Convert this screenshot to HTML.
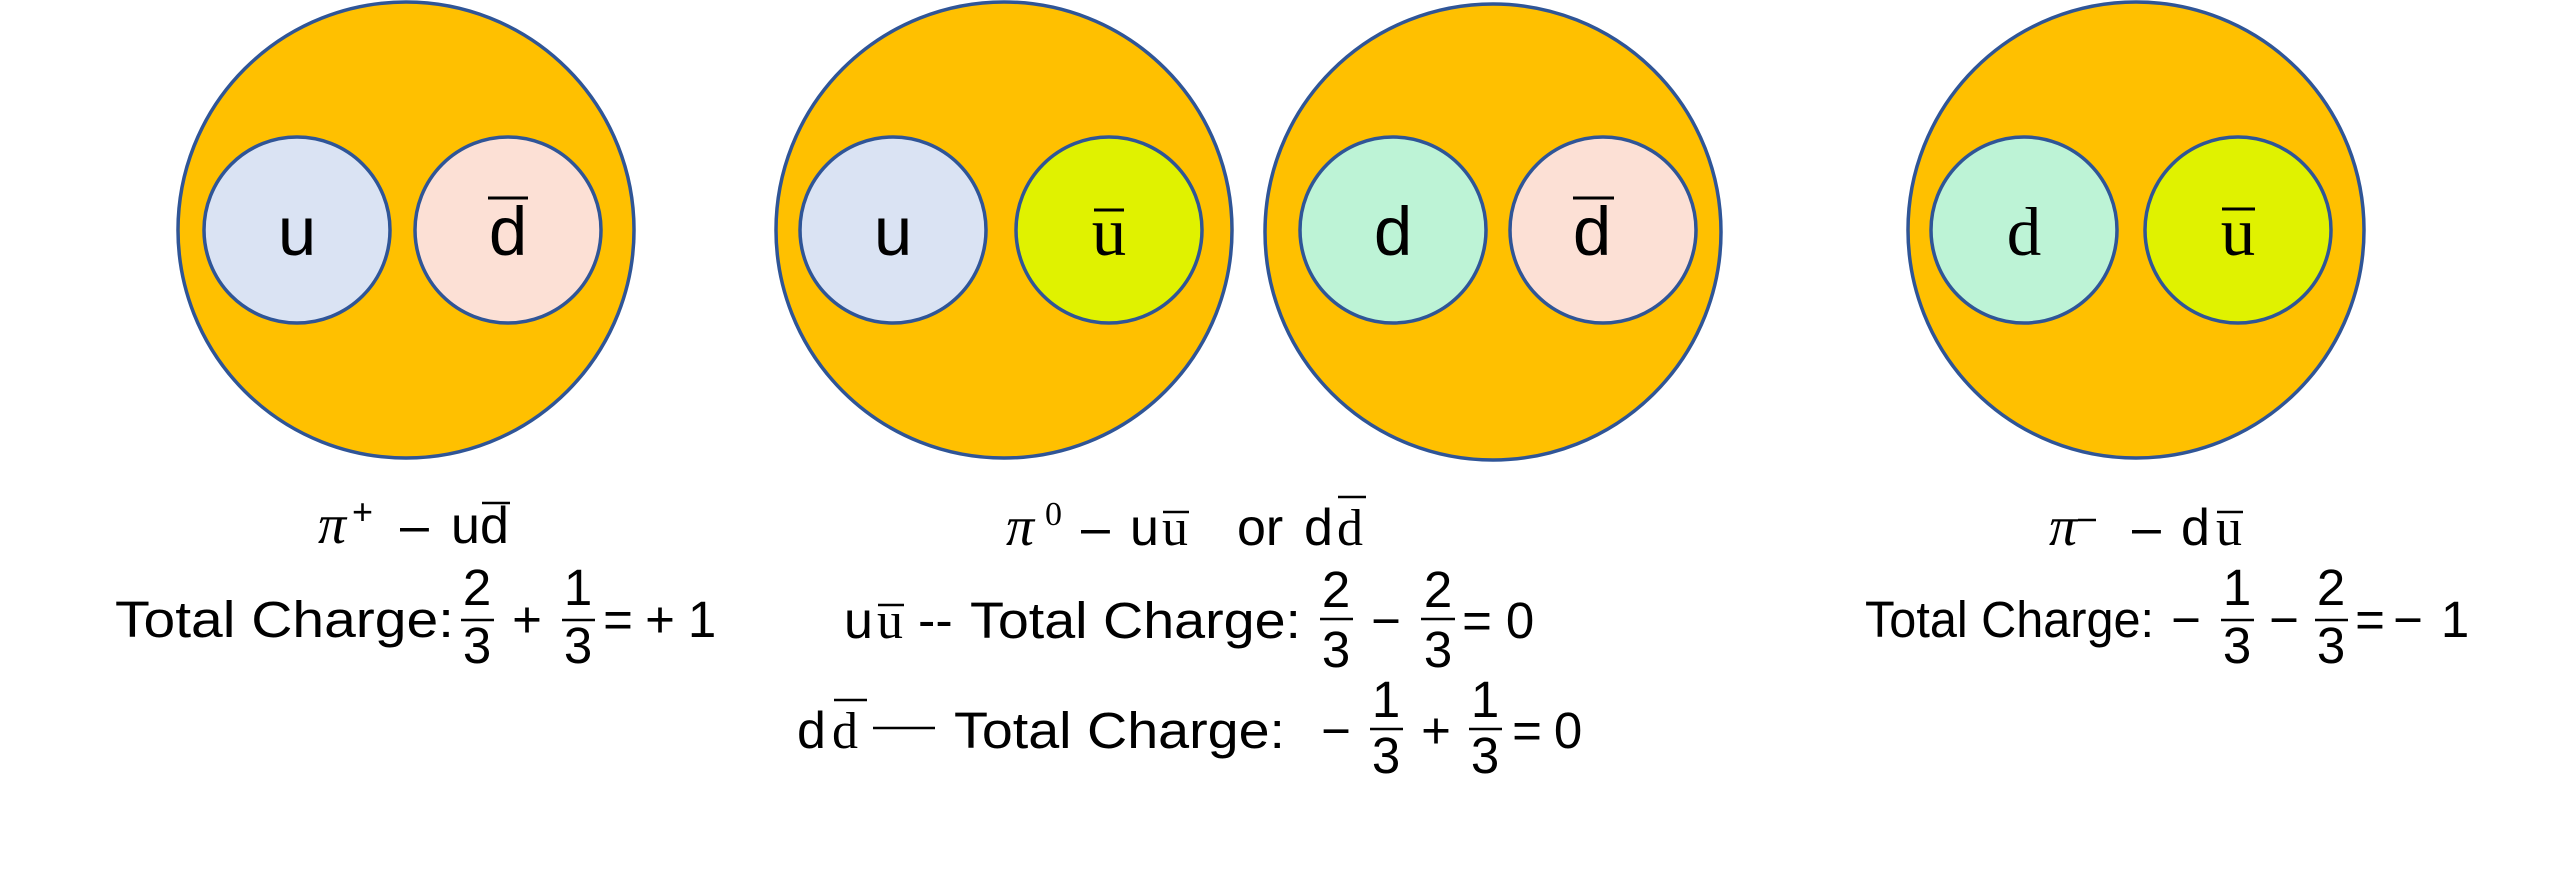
<!DOCTYPE html>
<html><head><meta charset="utf-8"><style>
html,body{margin:0;padding:0;background:#fff;}
svg{display:block;}
.s{font-family:"Liberation Sans",sans-serif;fill:#000;}
.r{font-family:"Liberation Serif",serif;fill:#000;}
</style></head><body>
<svg width="2560" height="878" viewBox="0 0 2560 878" xmlns="http://www.w3.org/2000/svg">
<g stroke="#2F5597" stroke-width="3.5">
<circle cx="406" cy="230" r="228" fill="#FFC000"/>
<circle cx="1004" cy="230" r="228" fill="#FFC000"/>
<circle cx="1493" cy="232" r="228" fill="#FFC000"/>
<circle cx="2136" cy="230" r="228" fill="#FFC000"/>
<circle cx="297" cy="230" r="93" fill="#DAE3F3"/>
<circle cx="508" cy="230" r="93" fill="#FCE0D5"/>
<circle cx="893" cy="230" r="93" fill="#DAE3F3"/>
<circle cx="1109" cy="230" r="93" fill="#E0F200"/>
<circle cx="1393" cy="230" r="93" fill="#BDF3D6"/>
<circle cx="1603" cy="230" r="93" fill="#FCE0D5"/>
<circle cx="2024" cy="230" r="93" fill="#BDF3D6"/>
<circle cx="2238" cy="230" r="93" fill="#E0F200"/>
</g>
<!-- quark labels -->
<g font-size="69" text-anchor="middle">
<text class="s" x="297" y="255">u</text>
<text class="s" x="508" y="255">d</text>
<text class="s" x="893" y="255">u</text>
<text class="r" x="1109" y="255">u</text>
<text class="s" x="1393" y="255">d</text>
<text class="s" x="1592" y="255">d</text>
<text class="r" x="2024" y="255">d</text>
<text class="r" x="2238" y="255">u</text>
</g>
<g stroke="#000" stroke-width="3">
<line x1="488" y1="198" x2="528" y2="198"/>
<line x1="1573" y1="198" x2="1614" y2="198"/>
<line x1="1094" y1="210" x2="1124" y2="210"/>
<line x1="2222" y1="209" x2="2255" y2="209"/>
</g>

<!-- pi+ -->
<text class="r" x="318" y="543" font-size="56" font-style="italic">π</text>
<text class="s" x="352" y="524" font-size="36">+</text>
<text class="s" x="400" y="543" font-size="52">–</text>
<text class="s" x="451" y="543" font-size="52">u</text>
<text class="s" x="480" y="543" font-size="52">d</text>
<line x1="482" y1="503" x2="510" y2="503" stroke="#000" stroke-width="2.5"/>

<text class="s" x="115" y="637" font-size="51" textLength="339" lengthAdjust="spacingAndGlyphs">Total Charge:</text>
<g class="s" font-size="51" text-anchor="middle">
<text x="477" y="605">2</text><text x="477" y="663">3</text>
<text x="527" y="637">+</text>
<text x="578" y="605">1</text><text x="578" y="663">3</text>
<text x="618" y="637">=</text>
<text x="660" y="637">+</text>
<text x="702" y="637">1</text>
</g>
<g stroke="#000" stroke-width="2.5">
<line x1="461" y1="620" x2="494" y2="620"/>
<line x1="562" y1="620" x2="595" y2="620"/>
</g>

<!-- pi0 -->
<text class="r" x="1006" y="545" font-size="56" font-style="italic">π</text>
<text class="r" x="1045" y="525" font-size="34">0</text>
<text class="s" x="1081" y="545" font-size="52">–</text>
<text class="s" x="1130" y="545" font-size="52">u</text>
<text class="r" x="1162" y="545" font-size="52">u</text>
<line x1="1163" y1="512" x2="1189" y2="512" stroke="#000" stroke-width="2.5"/>
<text class="s" x="1237" y="545" font-size="52">or</text>
<text class="s" x="1304" y="545" font-size="52">d</text>
<text class="r" x="1337" y="545" font-size="52">d</text>
<line x1="1338" y1="497" x2="1366" y2="497" stroke="#000" stroke-width="2.5"/>

<text class="s" x="844" y="638" font-size="52">u</text>
<text class="r" x="877" y="638" font-size="52">u</text>
<line x1="878" y1="605" x2="904" y2="605" stroke="#000" stroke-width="2.5"/>
<text class="s" x="918" y="638" font-size="52">--</text>
<text class="s" x="970" y="638" font-size="51" textLength="331" lengthAdjust="spacingAndGlyphs">Total Charge:</text>
<g class="s" font-size="51" text-anchor="middle">
<text x="1336" y="607">2</text><text x="1336" y="667">3</text>
<text x="1386" y="638">−</text>
<text x="1438" y="607">2</text><text x="1438" y="667">3</text>
<text x="1477" y="638">=</text>
<text x="1520" y="638">0</text>
</g>
<g stroke="#000" stroke-width="2.5">
<line x1="1320" y1="619" x2="1353" y2="619"/>
<line x1="1421" y1="619" x2="1455" y2="619"/>
</g>

<text class="s" x="797" y="748" font-size="52">d</text>
<text class="r" x="832" y="748" font-size="52">d</text>
<line x1="834" y1="700" x2="867" y2="700" stroke="#000" stroke-width="2.5"/>
<line x1="873" y1="728" x2="935" y2="728" stroke="#000" stroke-width="2.5"/>
<text class="s" x="954" y="748" font-size="51" textLength="331" lengthAdjust="spacingAndGlyphs">Total Charge:</text>
<g class="s" font-size="51" text-anchor="middle">
<text x="1336" y="748">−</text>
<text x="1386" y="717">1</text><text x="1386" y="773">3</text>
<text x="1436" y="748">+</text>
<text x="1485" y="717">1</text><text x="1485" y="773">3</text>
<text x="1527" y="748">=</text>
<text x="1568" y="748">0</text>
</g>
<g stroke="#000" stroke-width="2.5">
<line x1="1370" y1="729" x2="1403" y2="729"/>
<line x1="1469" y1="729" x2="1502" y2="729"/>
</g>

<!-- pi- -->
<text class="r" x="2049" y="545" font-size="56" font-style="italic">π</text>
<line x1="2078" y1="520" x2="2096" y2="520" stroke="#000" stroke-width="2.5"/>
<text class="s" x="2132" y="545" font-size="52">–</text>
<text class="s" x="2181" y="545" font-size="52">d</text>
<text class="r" x="2216" y="545" font-size="52">u</text>
<line x1="2217" y1="512" x2="2243" y2="512" stroke="#000" stroke-width="2.5"/>

<text class="s" x="1865" y="637" font-size="51" textLength="289" lengthAdjust="spacingAndGlyphs">Total Charge:</text>
<g class="s" font-size="51" text-anchor="middle">
<text x="2186" y="637">−</text>
<text x="2237" y="605">1</text><text x="2237" y="663">3</text>
<text x="2284" y="637">−</text>
<text x="2331" y="605">2</text><text x="2331" y="663">3</text>
<text x="2370" y="637">=</text>
<text x="2408" y="637">−</text>
<text x="2455" y="637">1</text>
</g>
<g stroke="#000" stroke-width="2.5">
<line x1="2221" y1="620" x2="2254" y2="620"/>
<line x1="2315" y1="620" x2="2348" y2="620"/>
</g>
</svg>
</body></html>
